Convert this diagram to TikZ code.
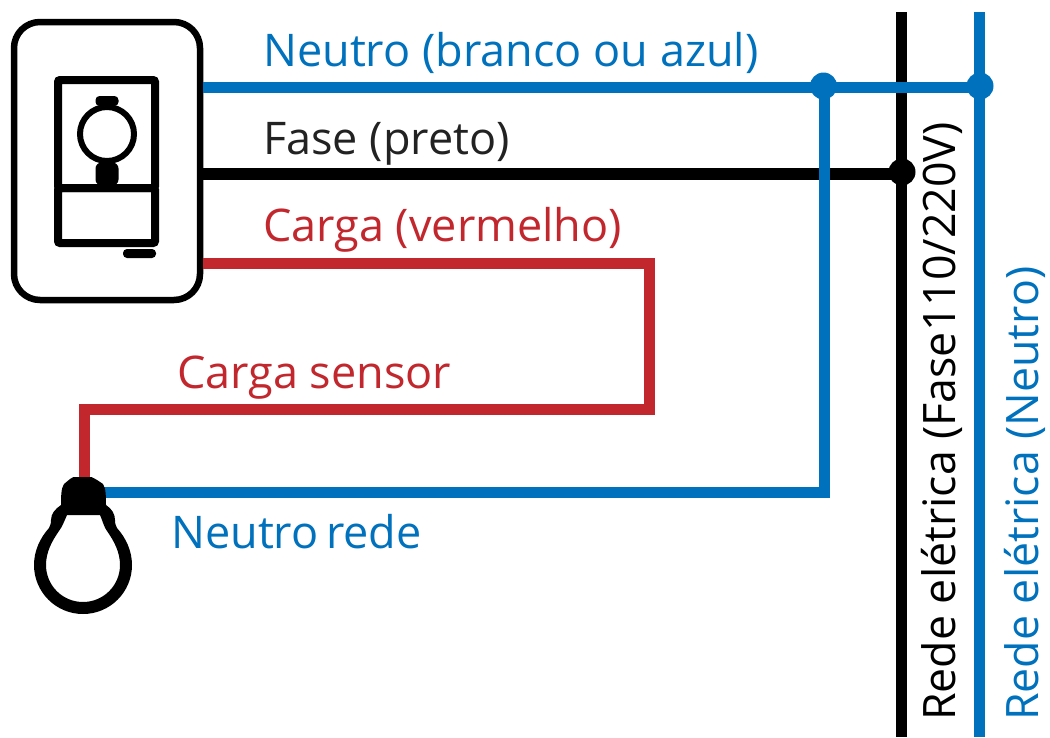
\documentclass[tikz,border=0pt]{standalone}
\usepackage{fontspec}
\setmainfont{Open Sans}
\definecolor{wireblue}{HTML}{0071BC}
\definecolor{wirered}{HTML}{C1272D}
\definecolor{txtdark}{HTML}{222222}
\tikzset{
  wire/.style={line width=11pt,line cap=butt,line join=miter},
  blackwire/.style={wire,line width=11.5pt,draw=black},
  dot/.style={circle,inner sep=0pt,minimum size=27pt,fill=#1},
  label/.style={font=\fontsize{45}{45}\selectfont,anchor=base west,inner sep=0pt},
  vlabel/.style={font=\fontsize{44.7}{45}\selectfont,anchor=base west,inner sep=0pt,rotate=90},
  part/.style={draw=black,line width=8pt,rounded corners=2pt,inner sep=0pt},
}
\begin{document}
\begin{tikzpicture}[x=1pt,y=-1pt]
\useasboundingbox (0,0) rectangle (1050,737);
% switch plate
\node[draw=black,line width=6.5pt,rounded corners=26pt,inner sep=0pt,minimum width=186pt,minimum height=278pt,fill=white] (plate) at (107,161) {};
\node[part,minimum width=97pt,minimum height=108pt] (upper) at (106.5,134) {};
\node[part,minimum width=97pt,minimum height=55pt] (lower) at (106.5,215.5) {};
\node[circle,draw=black,line width=6pt,inner sep=0pt,minimum size=54pt] (knob) at (107,134) {};
\node[fill=black,rounded corners=4pt,inner sep=0pt,minimum width=23pt,minimum height=10pt] (nubtop) at (107,101) {};
\node[fill=black,rounded corners=6pt,inner sep=0pt,minimum width=23pt,minimum height=23pt] (nubbot) at (107,174) {};
\node[fill=black,rounded corners=4pt,inner sep=0pt,minimum width=33pt,minimum height=9pt] (pill) at (139.5,253.5) {};
% coordinates
\coordinate (nL) at (203,87);
\coordinate (fL) at (203,174);
\coordinate (cL) at (203,263);
\coordinate (cA) at (649,263);
\coordinate (cB) at (649,409);
\coordinate (cC) at (84,409);
\coordinate (cD) at (84,485);
\coordinate (bN) at (100,492);
\coordinate (nB) at (824.5,492);
\coordinate (ft) at (901.7,12);
\coordinate (fb) at (901.7,737);
\coordinate (nt) at (979.7,12);
\coordinate (nb) at (979.7,737);
% dots
\node[dot=black] (dF) at (902,172) {};
\node[dot=wireblue] (dN1) at (823.5,86) {};
\node[dot=wireblue] (dN2) at (980,86) {};
% wires
\draw[blackwire] (ft) -- (fb);
\draw[blackwire] (fL) -- (dF.center |- fL);
\draw[wire,wirered] (cL) -- (cA) -- (cB) -- (cC) -- (cD);
\draw[wire,wireblue] (bN) -- (nB) -- (nB |- dN1.center);
\draw[wire,wireblue] (nt) -- (nb);
\draw[wire,wireblue] (nL) -- (dN2.center |- nL);
% bulb
\fill[black,even odd rule]
  (73.5,477) -- (91.5,477)
  .. controls (96,479) and (100,482) .. (103,484)
  .. controls (106,488) and (106,498) .. (106,505)
  .. controls (112,509) and (115,514) .. (115,520)
  .. controls (115,524) and (116,526) .. (117,528)
  .. controls (126,538) and (132,551) .. (132,565)
  arc[start angle=0,delta angle=180,radius=49]
  .. controls (34,551) and (40,538) .. (49,528)
  .. controls (50,526) and (51,524) .. (51,520)
  .. controls (51,514) and (55,509) .. (61,505)
  .. controls (61,498) and (61,488) .. (64,484)
  .. controls (67,482) and (69,479) .. (73.5,477) -- cycle
  (67,515) -- (100,515)
  .. controls (103,522) and (104,527) .. (107,531)
  .. controls (114,541) and (120,552) .. (120,565)
  arc[start angle=0,delta angle=180,radius=37]
  .. controls (46,552) and (52,541) .. (59,531)
  .. controls (62,527) and (64,522) .. (67,515) -- cycle;
% labels
\node[label,text=wireblue] (t1) at (263,66.5) {Neutro (branco ou azul)};
\node[label,text=txtdark] (t2) at (263,154) {Fase (preto)};
\node[label,text=wirered] (t3) at (263,241) {Carga (vermelho)};
\node[label,text=wirered] (t4) at (177,388) {Carga sensor};
\node[label,text=wireblue] (t5) at (171,548) {Neutro\kern-4pt\ rede};
\node[vlabel,text=black] (t6) at (955,721) {Rede elétrica (Fase110/220V)};
\node[vlabel,text=wireblue] (t7) at (1038,721) {Rede elétrica (Neutro)};
\end{tikzpicture}
\end{document}
